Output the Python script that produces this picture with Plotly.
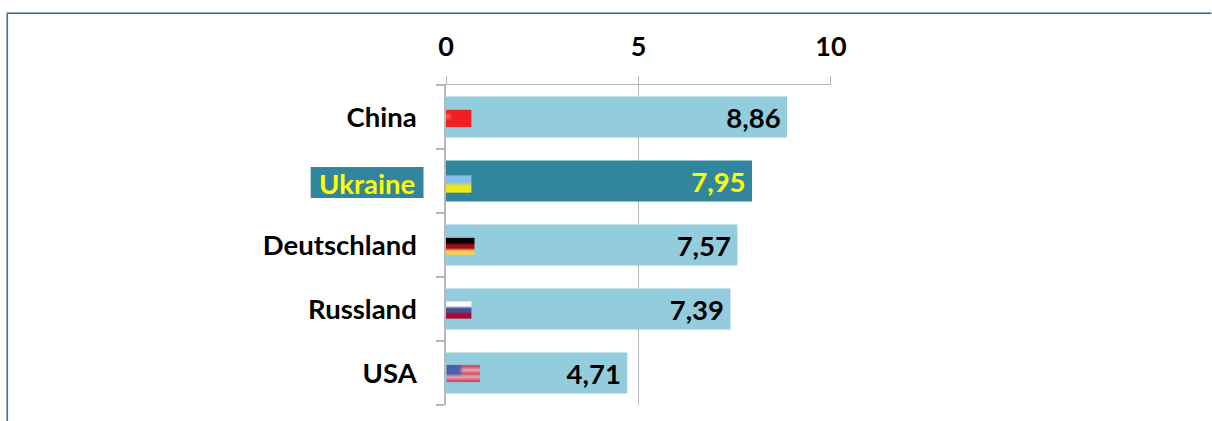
import base64, struct, zlib
import plotly.graph_objects as go

categories = ["China", "Ukraine", "Deutschland", "Russland", "USA"]
values = [8.86, 7.95, 7.57, 7.39, 4.71]
x_ticks = [0, 5, 10]
highlight = "Ukraine"

LIGHT = "#93CDDD"
DARK = "#31859C"
YELLOW = "#FFFF00"
GREY = "#B8B8B8"
FRAME_DARK = "#3E6B80"
FRAME_LIGHT = "#8FA9B8"
FONT = "Lato"


def png(rows):
    """Tiny RGB PNG; the browser's smoothing gives the flags their soft look."""
    h, w = len(rows), len(rows[0])
    raw = b"".join(b"\0" + bytes(c for px in r for c in px) for r in rows)

    def chunk(tag, data):
        return struct.pack(">I", len(data)) + tag + data + struct.pack(">I", zlib.crc32(tag + data))

    body = (b"\x89PNG\r\n\x1a\n" + chunk(b"IHDR", struct.pack(">IIBBBBB", w, h, 8, 2, 0, 0, 0))
            + chunk(b"IDAT", zlib.compress(raw)) + chunk(b"IEND", b""))
    return "data:image/png;base64," + base64.b64encode(body).decode()


R, S = (238, 32, 36), (250, 110, 85)
W, B, C = (255, 255, 255), (70, 80, 150), (170, 10, 50)
PR, PW, US = (200, 85, 105), (240, 165, 175), (75, 95, 175)
# pixels, left inset, width, vertical offset from the row centre (axis units)
flags = {
    "China": ([[R, R, R, R, R, R], [S, R, R, R, R, R], [R, R, R, R, R, R], [R, R, R, R, R, R]], 0.0, 0.66, 0.023),
    "Ukraine": ([[(135, 190, 235)] * 6, [(135, 190, 235)] * 6, [(242, 232, 25)] * 6, [(242, 232, 25)] * 6], 0.0, 0.66, 0.047),
    "Deutschland": ([[(0, 0, 0)] * 6, [(0, 0, 0)] * 6, [(165, 10, 25)] * 6, [(165, 10, 25)] * 6,
                     [(245, 205, 95)] * 6, [(245, 205, 95)] * 6], 0.0, 0.74, 0.023),
    "Russland": ([[W] * 6, [W] * 6, [B] * 6, [B] * 6, [C] * 6, [C] * 6], 0.0, 0.66, 0.016),
    "USA": ([[US, US, US, PR, PR, PR, PR], [US, US, US, PW, PW, PW, PW], [US, US, US, PR, PR, PR, PR],
             [PW] * 7, [PR] * 7], 0.015, 0.87, 0.008),
}

fig = go.Figure(go.Bar(
    y=categories,
    x=values,
    orientation="h",
    width=0.64,
    marker=dict(color=[DARK if c == highlight else LIGHT for c in categories], line_width=0),
    texttemplate="%{x:.2f}\u2009",
    textposition="inside",
    insidetextanchor="end",
    textangle=0,
    constraintext="none",
    insidetextfont=dict(family=FONT, size=27.5, weight=700,
                        color=[YELLOW if c == highlight else "#000000" for c in categories]),
    hoverinfo="skip",
))

ticktext = ["" if c == highlight else c for c in categories]

PX0, PXW = 445.5, 385.5
PY0, PYH = 85.0, 320.0


def px(v):
    return (v - PX0) / PXW


def py(v):
    return 1 - (v - PY0) / PYH


def frame_line(color, x, y):
    return [
        dict(type="line", xref="paper", yref="paper", line=dict(color=color, width=1),
             x0=px(x), x1=px(1212), y0=py(y), y1=py(y)),
        dict(type="line", xref="paper", yref="paper", line=dict(color=color, width=1),
             x0=px(x), x1=px(x), y0=py(y), y1=py(421)),
    ]


fig.update_layout(
    width=1212,
    height=421,
    margin=dict(l=445.5, r=381, t=85, b=16, pad=0, autoexpand=False),
    paper_bgcolor="white",
    plot_bgcolor="white",
    separators=",.",
    showlegend=False,
    font=dict(family=FONT, color="#000000"),
    xaxis=dict(
        side="top", range=[0, 10.002], tickvals=x_ticks, showgrid=True, gridcolor=GREY, gridwidth=1,
        showline=True, linecolor=GREY, linewidth=1, ticks="outside", ticklen=8, tickcolor=GREY,
        zeroline=False, ticklabelstandoff=9,
        tickfont=dict(family=FONT, size=27, weight=700),
    ),
    yaxis=dict(
        autorange="reversed", type="category", tickmode="array", tickvals=categories, ticktext=ticktext,
        tickson="boundaries", ticks="outside", ticklen=8, tickcolor=GREY, tickwidth=1.5,
        showline=True, linecolor=GREY, linewidth=1.5, showgrid=False, ticklabelstandoff=22,
        tickfont=dict(family=FONT, size=27.5, weight=700),
    ),
    annotations=[
        dict(text=highlight, xref="paper", yref="y", x=px(416), y=highlight, xanchor="right", yanchor="middle",
             yshift=-2, showarrow=False, font=dict(family=FONT, size=27.5, weight=700, color=YELLOW)),
    ],
    images=[
        dict(source=png(flags[c][0]), xref="x", yref="y", x=flags[c][1], y=i + flags[c][3],
             xanchor="left", yanchor="middle",
             sizex=flags[c][2], sizey=0.27, sizing="stretch", layer="above")
        for i, c in enumerate(categories)
    ],
    shapes=[
        # teal box behind the highlighted label
        dict(type="rect", xref="paper", yref="paper", layer="below", line_width=0, fillcolor=DARK,
             x0=px(310), x1=px(423), y0=py(198), y1=py(167)),
        # slide frame: top and left edges only, a pale line outside a dark one
        *frame_line(FRAME_LIGHT, 5.5, 12.5),
        *frame_line(FRAME_DARK, 6.5, 13.5),
    ],
)

fig.write_html("out.html", post_script="document.body.style.margin='0';", config=dict(displayModeBar=False))
